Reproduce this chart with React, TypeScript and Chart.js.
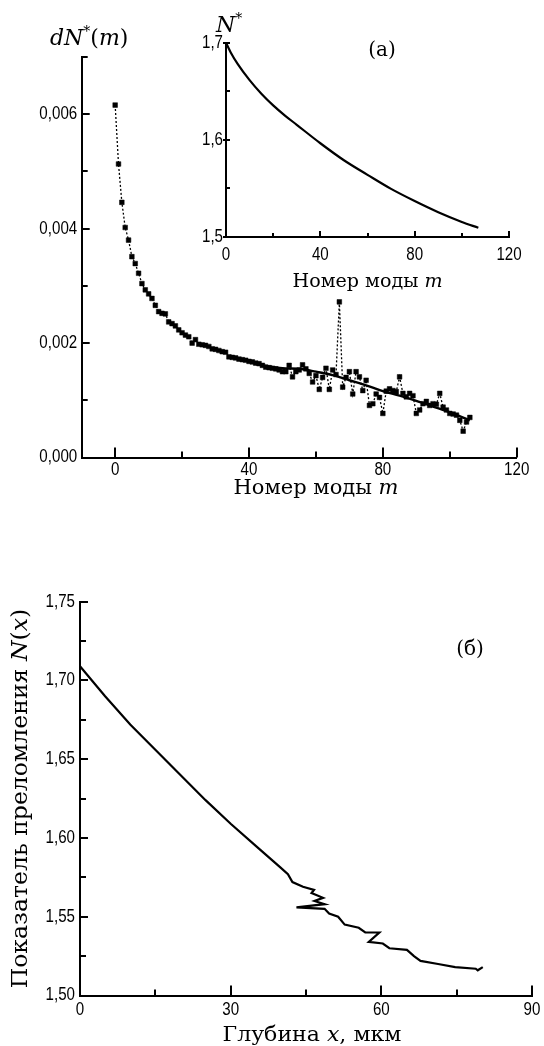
import React, { useEffect, useRef } from "react";
import { Chart, registerables } from "chart.js";

Chart.register(...registerables);

// ---------------- data ----------------
// (a) main plot: dN*(m) per mode number
const mainModes = [
  0, 1, 2, 3, 4, 5, 6, 7, 8, 9, 10, 11, 12, 13, 14, 15, 16, 17, 18, 19,
  20, 21, 22, 23, 24, 25, 26, 27, 28, 29, 30, 31, 32, 33, 34, 35, 36, 37, 38, 39,
  40, 41, 42, 43, 44, 45, 46, 47, 48, 49, 50, 51, 52, 53, 54, 55, 56, 57, 58, 59,
  60, 61, 62, 63, 64, 65, 66, 67, 68, 69, 70, 71, 72, 73, 74, 75, 76, 77, 78, 79,
  80, 81, 82, 83, 84, 85, 86, 87, 88, 89, 90, 91, 92, 93, 94, 95, 96, 97, 98, 99,
  100, 101, 102, 103, 104, 105, 106,
];
const mainDN = [
  0.00616, 0.00513, 0.00446, 0.00402, 0.0038, 0.00351, 0.00339, 0.00322, 0.00304, 0.00293,
  0.00286, 0.00278, 0.00266, 0.00255, 0.00252, 0.00251, 0.00237, 0.00234, 0.0023, 0.00223,
  0.00218, 0.00214, 0.00211, 0.002, 0.00206, 0.00198, 0.00197, 0.00196, 0.00194, 0.0019,
  0.00189, 0.00187, 0.00185, 0.00184, 0.00176, 0.00175, 0.00174, 0.00172, 0.00171, 0.0017,
  0.00168, 0.00167, 0.00165, 0.00164, 0.00161, 0.00158, 0.00157, 0.00156, 0.00155, 0.00153,
  0.0015, 0.0015, 0.00161, 0.00141, 0.0015, 0.00153, 0.00162, 0.00155, 0.00147, 0.00132,
  0.00143, 0.00119, 0.0014, 0.00156, 0.00119, 0.00153, 0.00145, 0.00272, 0.00123, 0.0014,
  0.0015, 0.00111, 0.0015, 0.00141, 0.00117, 0.00135, 0.00091, 0.00094, 0.00111, 0.00105,
  0.00077, 0.00116, 0.0012, 0.00117, 0.00115, 0.00141, 0.00112, 0.00106, 0.00112, 0.00108,
  0.00077, 0.00083, 0.00094, 0.00098, 0.00091, 0.00094, 0.00093, 0.00112, 0.00088, 0.00083,
  0.00077, 0.00076, 0.00074, 0.00065, 0.00046, 0.00062, 0.0007,
];
// smooth fitted curve through the noisy part
const fitModes = [40, 45, 50, 55, 60, 65, 70, 75, 80, 85, 90, 95, 100, 106];
const fitDN = [0.00167, 0.0016, 0.00156, 0.00155, 0.0015, 0.00144, 0.00135, 0.00126, 0.00116, 0.00108, 0.00099, 0.00089, 0.00079, 0.00065];

// (a) inset: effective index N* per mode number
const insetModes = [0, 2, 5, 10, 15, 20, 25, 30, 40, 50, 60, 70, 80, 90, 100, 107];
const insetN = [1.7, 1.69, 1.678, 1.6615, 1.6475, 1.6355, 1.625, 1.6155, 1.5965, 1.579, 1.564, 1.5495, 1.537, 1.5255, 1.5155, 1.5095];

// (б) refractive index profile N(x) vs depth x, µm
const depthX = [
  0, 5, 10, 15, 20, 25, 30, 35, 40, 41.4, 42.3, 44.4, 46.6, 46.1, 48.4, 46.7, 48.7, 43.1,
  48.7, 49.6, 51.4, 52.7, 55.5, 56.8, 59.6, 57.5, 60.3, 61.6, 65.1, 66.5, 67.8, 71.3, 74.7, 78.8, 79.2, 80.2,
];
const indexN = [
  1.709, 1.69, 1.672, 1.656, 1.64, 1.624, 1.609, 1.595, 1.581, 1.577, 1.572, 1.569, 1.567, 1.565, 1.562, 1.56, 1.558, 1.556,
  1.555, 1.552, 1.55, 1.545, 1.543, 1.54, 1.54, 1.534, 1.533, 1.53, 1.529, 1.525, 1.522, 1.52, 1.518, 1.517, 1.516, 1.518,
];

// tick values
const mainXTicks = [0, 40, 80, 120];
const mainXMinor = [20, 60, 100];
const mainYTicks = [0, 0.002, 0.004, 0.006];
const mainYMinor = [0.001, 0.003, 0.005, 0.007];
const insetXTicks = [0, 40, 80, 120];
const insetXMinor = [20, 60, 100];
const insetYTicks = [1.5, 1.6, 1.7];
const insetYMinor = [1.55, 1.65];
const profXTicks = [0, 30, 60, 90];
const profXMinor = [15, 45, 75];
const profYTicks = [1.5, 1.55, 1.6, 1.65, 1.7, 1.75];
const profYMinor = [1.525, 1.575, 1.625, 1.675, 1.725];

// ---------------- drawing helpers ----------------
const SANS = "'Liberation Sans', Arial, sans-serif";
const SERIF = "'DejaVu Serif', serif";

type Seg = { t: string; it?: boolean; sup?: boolean };
type TextItem = { segs: Seg[]; x: number; y: number; size: number; align: "left" | "center"; rotate?: number; sx?: number };
type TickSet = { axis: "x" | "y"; values: number[]; inward: number; outward?: number };
type LabelSet = { axis: "x" | "y"; values: number[]; fmt: (v: number) => string; offset: number };

function segFont(s: Seg, size: number) {
  const sz = s.sup ? Math.round(size * 0.62) : size;
  return `${s.it ? "italic " : ""}${sz}px ${SERIF}`;
}

function drawRich(ctx: CanvasRenderingContext2D, item: TextItem) {
  ctx.save();
  ctx.translate(item.x, item.y);
  if (item.rotate) ctx.rotate(item.rotate);
  ctx.scale(item.sx || 1, 1);
  ctx.fillStyle = "#000";
  ctx.textBaseline = "alphabetic";
  ctx.textAlign = "left";
  let total = 0;
  const widths = item.segs.map((s) => {
    ctx.font = segFont(s, item.size);
    const w = ctx.measureText(s.t).width;
    total += w;
    return w;
  });
  let cx = item.align === "center" ? -total / 2 : 0;
  item.segs.forEach((s, i) => {
    ctx.font = segFont(s, item.size);
    ctx.fillText(s.t, cx, s.sup ? -item.size * 0.42 : 0);
    cx += widths[i];
  });
  ctx.restore();
}

function decorPlugin(id: string, ticks: TickSet[], labels: LabelSet[], texts: TextItem[]) {
  return {
    id,
    afterDraw(chart: any) {
      const ctx: CanvasRenderingContext2D = chart.ctx;
      const area = chart.chartArea;
      ctx.save();
      ctx.strokeStyle = "#000";
      ctx.lineWidth = 2;
      for (const t of ticks) {
        const sc = chart.scales[t.axis];
        for (const v of t.values) {
          const p = Math.round(sc.getPixelForValue(v));
          ctx.beginPath();
          if (t.axis === "x") {
            ctx.moveTo(p, area.bottom + (t.outward || 0));
            ctx.lineTo(p, area.bottom - t.inward);
          } else {
            ctx.moveTo(area.left - (t.outward || 0), p);
            ctx.lineTo(area.left + t.inward, p);
          }
          ctx.stroke();
        }
      }
      // tick labels (narrow sans, condensed horizontally)
      ctx.fillStyle = "#000";
      ctx.font = `18px ${SANS}`;
      ctx.textBaseline = "middle";
      for (const l of labels) {
        const sc = chart.scales[l.axis];
        for (const v of l.values) {
          const p = sc.getPixelForValue(v);
          ctx.save();
          if (l.axis === "x") {
            ctx.translate(p, area.bottom + l.offset);
            ctx.scale(0.84, 1);
            ctx.textAlign = "center";
          } else {
            ctx.translate(area.left - l.offset, p);
            ctx.scale(0.84, 1);
            ctx.textAlign = "right";
          }
          ctx.fillText(l.fmt(v), 0, 0);
          ctx.restore();
        }
      }
      ctx.restore();
      for (const tx of texts) drawRich(ctx, tx);
    },
  };
}

function fmt(digits: number) {
  return (v: number) => Number(v).toFixed(digits).replace(".", ",");
}
const plain = (v: number) => String(v);

function makeAxis(o: { min: number; max: number; horizontal: boolean; size: number }) {
  return {
    type: "linear",
    min: o.min,
    max: o.max,
    afterFit: (s: any) => {
      if (o.horizontal) {
        s.height = o.size;
        s.paddingLeft = 0;
        s.paddingRight = 0;
      } else {
        s.width = o.size;
        s.paddingTop = 0;
        s.paddingBottom = 0;
      }
    },
    grid: { display: false, drawTicks: false },
    border: { display: true, color: "#000", width: 2 },
    ticks: { display: false },
  };
}

const basePlugins = { legend: { display: false }, tooltip: { enabled: false }, title: { display: false } };

function mainConfig(): any {
  return {
    type: "line",
    data: {
      datasets: [
        {
          data: mainModes.map((m, i) => ({ x: m, y: mainDN[i] })),
          borderColor: "#000",
          borderWidth: 1.3,
          borderDash: [2, 2],
          pointStyle: "rect",
          pointRadius: 3.3,
          pointBackgroundColor: "#000",
          pointBorderColor: "#000",
          pointBorderWidth: 0.5,
          tension: 0,
          fill: false,
        },
        {
          data: fitModes.map((m, i) => ({ x: m, y: fitDN[i] })),
          borderColor: "#000",
          borderWidth: 2.4,
          pointRadius: 0,
          cubicInterpolationMode: "monotone",
          fill: false,
        },
      ],
    },
    options: {
      responsive: false,
      animation: false,
      events: [],
      layout: { padding: { left: 0, top: 57, right: 27.3, bottom: 0 } },
      scales: {
        x: makeAxis({ min: -10, max: 120, horizontal: true, size: 52.5 }),
        y: makeAxis({ min: 0, max: 0.007, horizontal: false, size: 81.7 }),
      },
      plugins: basePlugins,
    },
    plugins: [
      decorPlugin(
        "mainDecor",
        [
          { axis: "x", values: mainXTicks, inward: 10 },
          { axis: "x", values: mainXMinor, inward: 6 },
          { axis: "y", values: mainYTicks, inward: 8 },
          { axis: "y", values: mainYMinor, inward: 6 },
        ],
        [
          { axis: "x", values: mainXTicks, fmt: plain, offset: 12.5 },
          { axis: "y", values: mainYTicks, fmt: fmt(3), offset: 4.5 },
        ],
        [
          { segs: [{ t: "dN", it: true }, { t: "*", sup: true }, { t: "(" }, { t: "m", it: true }, { t: ")" }], x: 50, y: 45, size: 22, align: "left" },
          { segs: [{ t: "Номер моды " }, { t: "m", it: true }], x: 316, y: 494, size: 20, align: "center", sx: 1.05 },
        ]
      ),
    ],
  };
}

function insetConfig(): any {
  return {
    type: "line",
    data: {
      datasets: [
        {
          data: insetModes.map((m, i) => ({ x: m, y: insetN[i] })),
          borderColor: "#000",
          borderWidth: 2.2,
          pointRadius: 0,
          cubicInterpolationMode: "monotone",
          fill: false,
        },
      ],
    },
    options: {
      responsive: false,
      animation: false,
      events: [],
      layout: { padding: { left: 0, top: 42.7, right: 35, bottom: 0 } },
      scales: {
        x: makeAxis({ min: 0, max: 120, horizontal: true, size: 63 }),
        y: makeAxis({ min: 1.5, max: 1.7, horizontal: false, size: 226 }),
      },
      plugins: basePlugins,
    },
    plugins: [
      decorPlugin(
        "insetDecor",
        [
          { axis: "x", values: insetXTicks, inward: 6 },
          { axis: "x", values: insetXMinor, inward: 4 },
          { axis: "y", values: insetYTicks, inward: 4, outward: 3 },
          { axis: "y", values: insetYMinor, inward: 4 },
        ],
        [
          { axis: "x", values: insetXTicks, fmt: plain, offset: 18 },
          { axis: "y", values: insetYTicks, fmt: fmt(1), offset: 3 },
        ],
        [
          { segs: [{ t: "N", it: true }, { t: "*", sup: true }], x: 216, y: 32, size: 22, align: "left" },
          { segs: [{ t: "(а)" }], x: 382, y: 56, size: 20, align: "center" },
          { segs: [{ t: "Номер моды " }, { t: "m", it: true }], x: 367.5, y: 287, size: 18, align: "center", sx: 1.06 },
        ]
      ),
    ],
  };
}

function profileConfig(): any {
  return {
    type: "line",
    data: {
      datasets: [
        {
          data: depthX.map((x, i) => ({ x, y: indexN[i] })),
          borderColor: "#000",
          borderWidth: 2.2,
          pointRadius: 0,
          tension: 0,
          fill: false,
        },
      ],
    },
    options: {
      responsive: false,
      animation: false,
      events: [],
      layout: { padding: { left: 0, top: 91.7, right: 12, bottom: 0 } },
      scales: {
        x: makeAxis({ min: 0, max: 90, horizontal: true, size: 50.5 }),
        y: makeAxis({ min: 1.5, max: 1.75, horizontal: false, size: 80 }),
      },
      plugins: basePlugins,
    },
    plugins: [
      decorPlugin(
        "profileDecor",
        [
          { axis: "x", values: profXTicks, inward: 10 },
          { axis: "x", values: profXMinor, inward: 6 },
          { axis: "y", values: profYTicks, inward: 8 },
          { axis: "y", values: profYMinor, inward: 6 },
        ],
        [
          { axis: "x", values: profXTicks, fmt: plain, offset: 14.5 },
          { axis: "y", values: profYTicks, fmt: fmt(2), offset: 5 },
        ],
        [
          { segs: [{ t: "(б)" }], x: 470, y: 145, size: 20, align: "center" },
          { segs: [{ t: "Глубина " }, { t: "x", it: true }, { t: ", мкм" }], x: 312, y: 531, size: 21, align: "center", sx: 1.05 },
          {
            segs: [{ t: "Показатель преломления " }, { t: "N", it: true }, { t: "(" }, { t: "x", it: true }, { t: ")" }],
            x: 27,
            y: 288.6,
            size: 22,
            align: "center",
            rotate: -Math.PI / 2,
            sx: 1.07,
          },
        ]
      ),
    ],
  };
}

function ChartCanvas(props: { top: number; width: number; height: number; config: () => any }) {
  const ref = useRef<HTMLCanvasElement>(null);
  useEffect(() => {
    const chart = new Chart(ref.current as HTMLCanvasElement, props.config());
    return () => chart.destroy();
  }, []);
  return (
    <canvas
      ref={ref}
      width={props.width}
      height={props.height}
      style={{ position: "absolute", left: 0, top: props.top, width: props.width, height: props.height, display: "block" }}
    />
  );
}

export default function App() {
  return (
    <div style={{ position: "absolute", left: 0, top: 0, width: 544, height: 1046, background: "#fff", overflow: "hidden" }}>
      <ChartCanvas top={0} width={544} height={510} config={mainConfig} />
      <ChartCanvas top={0} width={544} height={300} config={insetConfig} />
      <ChartCanvas top={510} width={544} height={536} config={profileConfig} />
    </div>
  );
}
